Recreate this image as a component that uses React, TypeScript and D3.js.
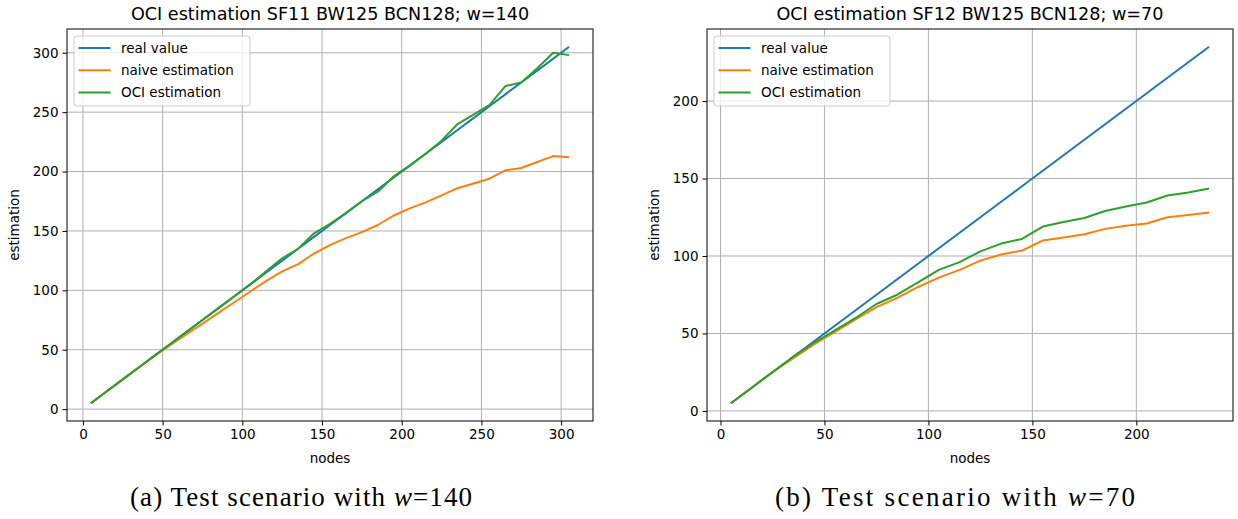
import React, { useEffect, useRef } from "react";
import * as d3 from "d3";

// left panel: SF11, w=140
const nodesA = [5, 15, 25, 35, 45, 55, 65, 75, 85, 95, 105, 115, 125, 135, 145, 155, 165, 175, 185, 195, 205, 215, 225, 235, 245, 255, 265, 275, 285, 295, 305];
const realA = [5, 15, 25, 35, 45, 55, 65, 75, 85, 95, 105, 115, 125, 135, 145, 155, 165, 175, 185, 195, 205, 215, 225, 235, 245, 255, 265, 275, 285, 295, 305];
const naiveA = [5, 15, 25, 35, 45, 54, 63, 72, 81, 90, 99, 108, 116, 122, 131, 138, 144, 149, 155, 163, 169, 174, 180, 186, 190, 194, 201, 203, 208, 213, 212];
const ociA = [5, 15, 25, 35, 45, 55, 65, 75, 85, 95, 105, 116, 127, 135, 148, 156, 165, 175, 183, 196, 205, 215, 226, 240, 248, 256, 272, 275, 287, 300, 298];

// right panel: SF12, w=70
const nodesB = [5, 15, 25, 35, 45, 55, 65, 75, 85, 95, 105, 115, 125, 135, 145, 155, 165, 175, 185, 195, 205, 215, 225, 235];
const realB = [5, 15, 25, 35, 45, 55, 65, 75, 85, 95, 105, 115, 125, 135, 145, 155, 165, 175, 185, 195, 205, 215, 225, 235];
const naiveB = [5, 15, 25, 34, 43, 51, 59, 67, 73, 80, 86, 91, 97, 101, 103.5, 110, 112, 114, 117.5, 119.5, 121, 125, 126.5, 128];
const ociB = [5, 15, 25, 35, 44, 52, 60, 69, 75, 83, 91, 96, 103, 108, 111, 119, 122, 124.5, 129, 132, 134.5, 139, 141, 143.5];

const ticksA = [0, 50, 100, 150, 200, 250, 300];
const ticksB = [0, 50, 100, 150, 200];

const seriesNames = ["real value", "naive estimation", "OCI estimation"];
const colors = ["#1f77b4", "#ff7f0e", "#2ca02c"];

const W = 1238;
const H = 519;

const Chart = () => {
  const ref = useRef(null);

  function drawPanel(svg, p) {
    const x = d3.scaleLinear().domain(p.xDomain).range([p.left, p.right]);
    const y = d3.scaleLinear().domain(p.yDomain).range([p.bottom, p.top]);
    const g = svg.append("g");

    // grid
    g.append("g")
      .selectAll("line")
      .data(p.xTicks)
      .join("line")
      .attr("x1", (d) => x(d))
      .attr("x2", (d) => x(d))
      .attr("y1", p.top)
      .attr("y2", p.bottom)
      .attr("stroke", "#b0b0b0")
      .attr("stroke-width", 1);
    g.append("g")
      .selectAll("line")
      .data(p.yTicks)
      .join("line")
      .attr("x1", p.left)
      .attr("x2", p.right)
      .attr("y1", (d) => y(d))
      .attr("y2", (d) => y(d))
      .attr("stroke", "#b0b0b0")
      .attr("stroke-width", 1);

    // lines
    const line = d3
      .line()
      .x((d) => x(d[0]))
      .y((d) => y(d[1]));
    p.series.forEach((vals, i) => {
      g.append("path")
        .datum(p.nodes.map((n, j) => [n, vals[j]]))
        .attr("fill", "none")
        .attr("stroke", colors[i])
        .attr("stroke-width", 2)
        .attr("stroke-linejoin", "round")
        .attr("d", line);
    });

    // axes
    const xa = g
      .append("g")
      .attr("transform", `translate(0,${p.bottom})`)
      .call(d3.axisBottom(x).tickValues(p.xTicks).tickSize(4.5).tickPadding(4).tickSizeOuter(0));
    const ya = g
      .append("g")
      .attr("transform", `translate(${p.left},0)`)
      .call(d3.axisLeft(y).tickValues(p.yTicks).tickSize(4.5).tickPadding(4).tickSizeOuter(0));
    [xa, ya].forEach((a) => {
      a.select(".domain").remove();
      a.selectAll("text")
        .attr("font-family", "DejaVu Sans")
        .attr("font-size", 13.5)
        .attr("fill", "#000");
      a.selectAll("line").attr("stroke", "#000").attr("stroke-width", 1);
    });

    // frame
    g.append("rect")
      .attr("x", p.left)
      .attr("y", p.top)
      .attr("width", p.right - p.left)
      .attr("height", p.bottom - p.top)
      .attr("fill", "none")
      .attr("stroke", "#000")
      .attr("stroke-width", 1);

    // title + labels
    const cx = (p.left + p.right) / 2;
    g.append("text")
      .attr("x", cx)
      .attr("y", 19.5)
      .attr("text-anchor", "middle")
      .attr("font-family", "DejaVu Sans")
      .attr("font-size", 17.6)
      .text(p.title);
    g.append("text")
      .attr("x", cx)
      .attr("y", 463)
      .attr("text-anchor", "middle")
      .attr("font-family", "DejaVu Sans")
      .attr("font-size", 13.5)
      .text("nodes");
    g.append("text")
      .attr("transform", `translate(${p.left - 48},${(p.top + p.bottom) / 2}) rotate(-90)`)
      .attr("text-anchor", "middle")
      .attr("font-family", "DejaVu Sans")
      .attr("font-size", 13.5)
      .text("estimation");

    // legend
    const lg = g.append("g").attr("transform", `translate(${p.left + 7},${p.top + 7})`);
    lg.append("rect")
      .attr("width", 176)
      .attr("height", 70)
      .attr("rx", 3)
      .attr("fill", "#fff")
      .attr("fill-opacity", 0.8)
      .attr("stroke", "#cccccc");
    seriesNames.forEach((name, i) => {
      const ly = 12 + i * 22.2;
      lg.append("line")
        .attr("x1", 4.5)
        .attr("x2", 36.5)
        .attr("y1", ly)
        .attr("y2", ly)
        .attr("stroke", colors[i])
        .attr("stroke-width", 2);
      lg.append("text")
        .attr("x", 47)
        .attr("y", ly + 4.8)
        .attr("font-family", "DejaVu Sans")
        .attr("font-size", 13.5)
        .text(name);
    });

    // caption
    const cap = svg
      .append("text")
      .attr("x", p.captionX)
      .attr("y", 506)
      .attr("text-anchor", "middle")
      .attr("font-family", "Liberation Serif")
      .attr("font-size", 27)
      .attr("textLength", p.captionWidth)
      .attr("lengthAdjust", "spacing");
    cap.append("tspan").text(p.caption);
    cap.append("tspan").attr("font-style", "italic").text("w");
    cap.append("tspan").text(p.captionEnd);
  }

  useEffect(() => {
    const svg = d3.select(ref.current);
    svg.selectAll("*").remove();
    svg.append("rect").attr("width", W).attr("height", H).attr("fill", "#fff");

    drawPanel(svg, {
      left: 67,
      right: 593,
      top: 29,
      bottom: 421,
      xDomain: [-10, 320],
      yDomain: [-10, 320],
      xTicks: ticksA,
      yTicks: ticksA,
      nodes: nodesA,
      series: [realA, naiveA, ociA],
      title: "OCI estimation SF11 BW125 BCN128; w=140",
      caption: "(a) Test scenario with ",
      captionEnd: "=140",
      captionX: 301,
      captionWidth: 342,
    });
    drawPanel(svg, {
      left: 707,
      right: 1233,
      top: 29,
      bottom: 421,
      xDomain: [-6.5, 246.5],
      yDomain: [-6.5, 246.5],
      xTicks: ticksB,
      yTicks: ticksB,
      nodes: nodesB,
      series: [realB, naiveB, ociB],
      title: "OCI estimation SF12 BW125 BCN128; w=70",
      caption: "(b) Test scenario with ",
      captionEnd: "=70",
      captionX: 955,
      captionWidth: 360,
    });
  }, []);

  return (
    <svg
      ref={ref}
      width={W}
      height={H}
      style={{ position: "absolute", left: 0, top: 0 }}
    />
  );
};

export default function App() {
  return <Chart />;
}
